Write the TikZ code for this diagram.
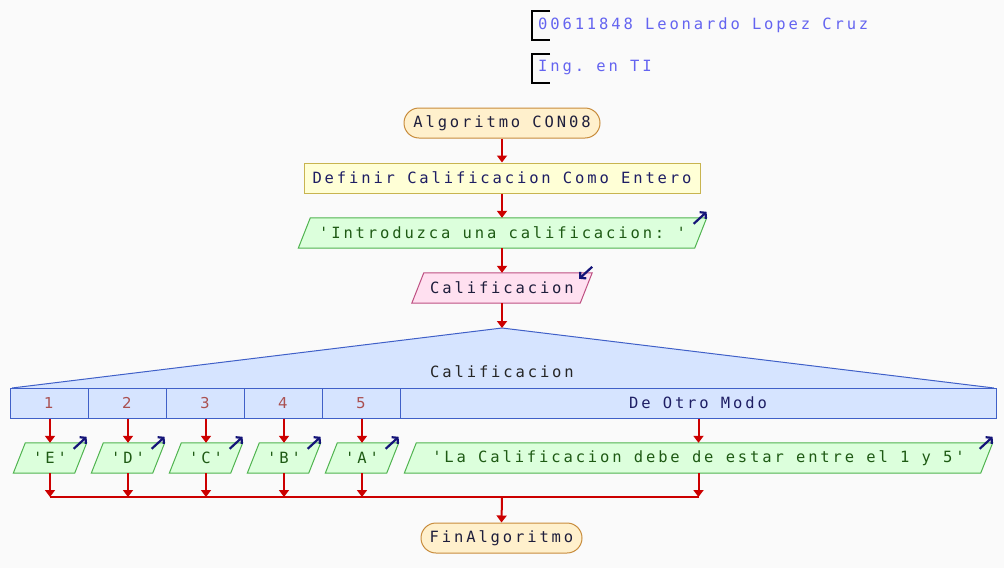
\documentclass[tikz,border=0pt]{standalone}
\usepackage{fontspec}
\setmonofont[LetterSpace=18.5]{DejaVu Sans Mono}
\newfontfamily\numfont{DejaVu Sans}
\usetikzlibrary{arrows.meta,calc}
\pgfdeclarelayer{bg}
\pgfdeclarelayer{shapes}
\pgfsetlayers{bg,shapes,main}
\definecolor{bgc}{RGB}{250,250,250}
\definecolor{flowred}{RGB}{204,0,0}
\definecolor{hdr}{RGB}{100,100,240}
\definecolor{termfill}{RGB}{255,240,204}
\definecolor{termdraw}{RGB}{200,140,60}
\definecolor{deffill}{RGB}{255,255,214}
\definecolor{defdraw}{RGB}{200,180,80}
\definecolor{infill}{RGB}{220,255,220}
\definecolor{indraw}{RGB}{80,180,80}
\definecolor{intext}{RGB}{30,90,20}
\definecolor{rdfill}{RGB}{255,224,240}
\definecolor{rddraw}{RGB}{190,80,130}
\definecolor{swfill}{RGB}{214,228,255}
\definecolor{swdraw}{RGB}{64,96,200}
\definecolor{numc}{RGB}{170,80,80}
\definecolor{arrnavy}{RGB}{20,20,120}
\definecolor{darktext}{RGB}{30,30,60}
\definecolor{deftext}{RGB}{30,30,100}
\newcommand\mypara[3]{%
  \begin{pgfonlayer}{shapes}
  \draw[fill=#2,draw=#3,line width=1pt] ($(#1.south west)+(-6,0)$) -- ($(#1.north west)+(6,0)$) -- ($(#1.north east)+(6,0)$) -- ($(#1.south east)+(-6,0)$) -- cycle;
  \end{pgfonlayer}}
\newcommand\outmark[1]{\draw[outarr] ($(#1.north east)+(-7,6)$) -- ($(#1.north east)+(6,-6)$);}
\begin{document}
\begin{tikzpicture}[x=1pt,y=-1pt,
  txt/.style={font=\ttfamily\fontsize{15.5}{18}\selectfont, inner sep=0pt},
  term/.style={txt, draw=termdraw, fill=termfill, rounded corners=15pt, minimum height=30pt, line width=1pt, text=darktext},
  procbox/.style={txt, draw=defdraw, fill=deffill, minimum height=30pt, line width=1pt, text=deftext},
  pnode/.style={txt, minimum height=30pt},
  cell/.style={draw=swdraw, fill=swfill, line width=1pt, minimum height=30pt, inner sep=0pt},
  flow/.style={draw=flowred, line width=2pt, -{Triangle[width=10pt,length=7pt]}},
  outarr/.style={draw=arrnavy, line width=2.2pt, -{Straight Barb[length=4pt,width=9pt]}},
  hdrtxt/.style={txt, text=hdr, anchor=west},
]
\begin{pgfonlayer}{bg}
\fill[bgc] (0,0) rectangle (1004,568);
\end{pgfonlayer}
\useasboundingbox (0,0) rectangle (1004,568);

% header
\draw[line width=1.1pt] (550,11) -- (532,11) -- (532,40) -- (550,40);
\draw[line width=1.1pt] (550,54) -- (532,54) -- (532,83) -- (550,83);
\node[hdrtxt] (h1) at (538,25) {00611848 Leonardo Lopez Cruz};
\node[hdrtxt] (h2) at (538,68) {Ing. en TI};

% main column
\node[term, minimum width=196pt] (alg) at (502,123) {Algoritmo CON08};
\node[procbox, minimum width=396pt] (def) at (502,178) {Definir Calificacion Como Entero};
\node[pnode, minimum width=396pt, text=intext] (in1) at (502.5,233) {'Introduzca una calificacion: '};
\mypara{in1}{infill}{indraw}
\node[pnode, minimum width=168pt, text=darktext] (rd) at (502,288) {Calificacion};
\mypara{rd}{rdfill}{rddraw}

% switch
\coordinate (apex) at (502,328);
\fill[swfill] (apex) -- (994,388) -- (12,388) -- cycle;
\draw[swdraw, line width=1pt] (12,388) -- (apex) -- (994,388);
\node[txt, text=black!85] (sel) at (502,372) {Calificacion};
\foreach \i/\x in {1/49,2/127,3/205,4/283,5/361}{
  \node[cell, minimum width=78pt, text=numc, font=\numfont\fontsize{15}{18}\selectfont] (c\i) at (\x,403) {\i};
}
\node[cell, minimum width=596pt, txt, text=deftext] (c6) at (698,403) {De Otro Modo};

% case outputs
\foreach \i/\x/\t in {1/50/E,2/128/D,3/206/C,4/284/B,5/362/A}{
  \node[pnode, minimum width=61pt, text=intext] (p\i) at (\x,458) {'\t'};
  \mypara{p\i}{infill}{indraw}
}
\node[pnode, minimum width=576pt, text=intext] (p6) at (698.5,458) {'La Calificacion debe de estar entre el 1 y 5'};
\mypara{p6}{infill}{indraw}

\node[term, minimum width=161pt] (fin) at (501.5,538) {FinAlgoritmo};
\coordinate (mrg) at (502,497);

% connectors
\draw[flow] (alg.south) -- (def.north);
\draw[flow] (def.south) -- (def.south |- in1.north);
\draw[flow] (in1.south -| rd.north) -- (rd.north);
\draw[flow] (rd.south) -- (apex);
\foreach \i in {1,...,6}{
  \draw[flow] (c\i.south -| p\i.north) -- (p\i.north);
  \draw[flow] (p\i.south) -- (p\i.south |- mrg);
}
\draw[flowred, line width=2pt] (p1.south |- mrg) -- (p6.south |- mrg);
\draw[flow] (mrg) -- (fin.north);

% io marks
\outmark{in1}
\foreach \i in {1,...,6}{\outmark{p\i}}
\draw[outarr] ($(rd.north east)+(6,-6)$) -- ($(rd.north east)+(-7,6)$);
\end{tikzpicture}
\end{document}
